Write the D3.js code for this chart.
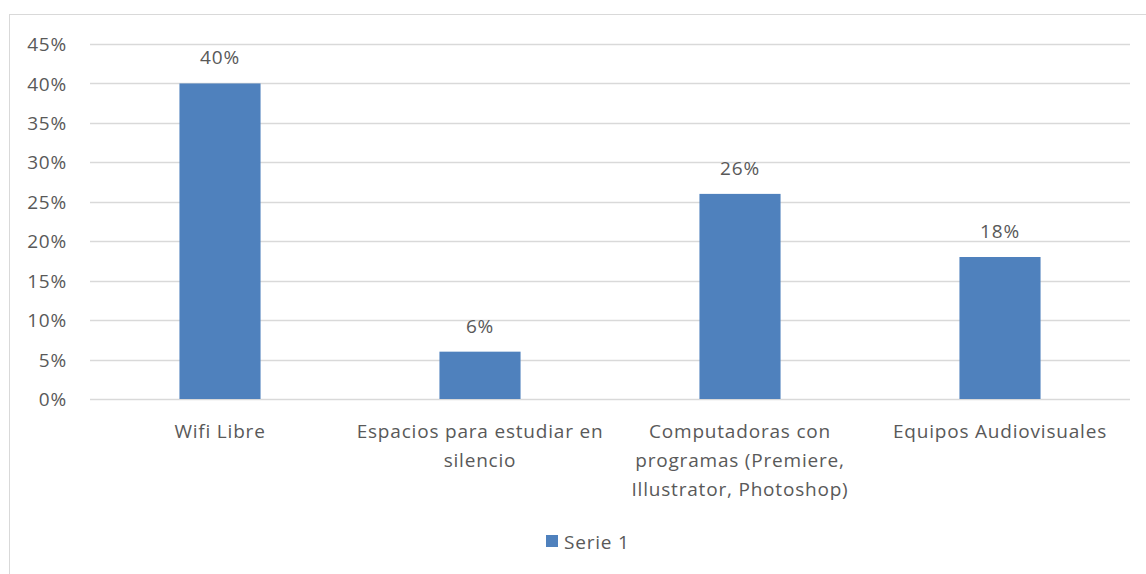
<!DOCTYPE html>
<html>
<head>
<meta charset="utf-8">
<script src="https://cdn.jsdelivr.net/npm/d3@7"></script>
<style>
  body { margin:0; background:#fff; }
  svg text { font-family: "Open Sans", Lato, sans-serif; fill:#595959; letter-spacing:0.8px; }
</style>
</head>
<body>
<svg id="chart"></svg>
<script>
// categories (line breaks as in the picture)
var categories = ["Wifi Libre",
                  "Espacios para estudiar en\nsilencio",
                  "Computadoras con\nprogramas (Premiere,\nIllustrator, Photoshop)",
                  "Equipos Audiovisuales"];
var serie1 = [0.40, 0.06, 0.26, 0.18];
var yTicks = [0, 0.05, 0.10, 0.15, 0.20, 0.25, 0.30, 0.35, 0.40, 0.45];
var seriesName = "Serie 1";

var fontSize = 19;

var screen = {width:1146, height:574};
var margins = {top:44, left:90, right:16, bottom:175};
var graph = {
    width:screen.width-margins.left-margins.right,
    height:screen.height-margins.top-margins.bottom
};

var svg = d3.select("#chart")
    .attr("width",screen.width)
    .attr("height",screen.height);

// chart frame
svg.append("rect")
    .attr("x",9.5).attr("y",14.5)
    .attr("width",1160).attr("height",600)
    .attr("fill","none")
    .attr("stroke","#d9d9d9")
    .attr("stroke-width",1);

var xScale = d3.scaleBand()
    .domain(categories)
    .range([0,graph.width])
    .paddingInner(0.688)
    .paddingOuter(0.344);

var yScale = d3.scaleLinear()
    .domain([0,0.45])
    .range([graph.height,0]);

var g = svg.append("g")
    .attr("transform","translate("+margins.left+","+margins.top+")");

//gridlines
g.append("g")
    .selectAll("line")
    .data(yTicks)
    .enter()
    .append("line")
    .attr("x1",0)
    .attr("x2",graph.width)
    .attr("y1",function(d){return Math.round(yScale(d))+0.5;})
    .attr("y2",function(d){return Math.round(yScale(d))+0.5;})
    .attr("stroke","#d9d9d9")
    .attr("stroke-width",1.3);

//y axis labels
var yAxis = d3.axisLeft(yScale)
    .tickValues(yTicks)
    .tickSize(0)
    .tickPadding(23)
    .tickFormat(d3.format(".0%"));
var ya = g.append("g").call(yAxis);
ya.select(".domain").remove();
ya.selectAll("text")
    .attr("font-size",fontSize)
    .attr("dy","0.35em")
    .style("font-family",null);

//bars
g.selectAll("rect.bar")
    .data(serie1)
    .enter()
    .append("rect")
    .classed("bar",true)
    .attr("x",function(d,i){return xScale(categories[i]);})
    .attr("y",function(d){return yScale(d);})
    .attr("width",xScale.bandwidth())
    .attr("height",function(d){return graph.height-yScale(d);})
    .attr("fill","#4f81bd");

//value labels
g.selectAll("text.val")
    .data(serie1)
    .enter()
    .append("text")
    .classed("val",true)
    .attr("x",function(d,i){return xScale(categories[i])+xScale.bandwidth()/2;})
    .attr("y",function(d){return yScale(d)-19;})
    .attr("text-anchor","middle")
    .attr("font-size",fontSize)
    .text(function(d){return Math.round(d*100)+"%";});

//category labels
var cat = g.selectAll("text.cat")
    .data(categories)
    .enter()
    .append("text")
    .classed("cat",true)
    .attr("text-anchor","middle")
    .attr("font-size",fontSize)
    .attr("transform",function(d){
        return "translate("+(xScale(d)+xScale.bandwidth()/2)+","+(graph.height+39)+")";
    });
cat.selectAll("tspan")
    .data(function(d){return d.split("\n");})
    .enter()
    .append("tspan")
    .attr("x",0)
    .attr("y",function(d,i){return i*29;})
    .text(function(d){return d;});

//legend
var legend = svg.append("g")
    .attr("transform","translate(546,535)");
legend.append("rect")
    .attr("width",12).attr("height",12)
    .attr("fill","#4f81bd");
legend.append("text")
    .attr("x",18).attr("y",14)
    .attr("font-size",fontSize)
    .text(seriesName);
</script>
</body>
</html>
